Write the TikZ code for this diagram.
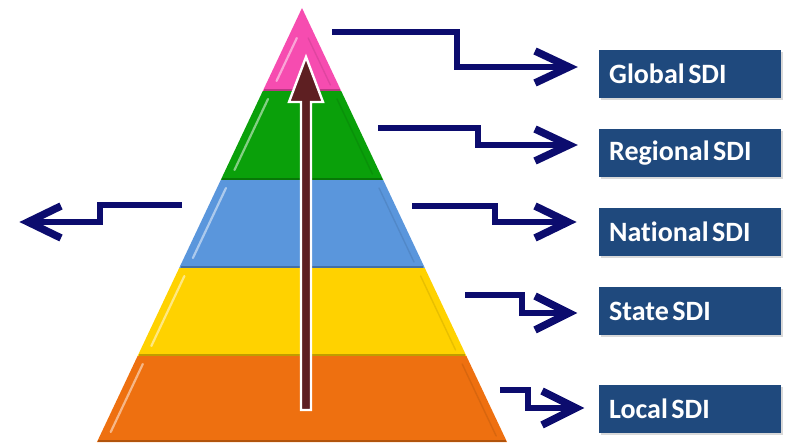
\documentclass[tikz,border=0pt]{standalone}
\usepackage{fontspec}
\setmainfont{Carlito}[Ligatures=NoCommon]
\usetikzlibrary{shadows}
\definecolor{cpink}{HTML}{F64CB0}
\definecolor{cgreen}{HTML}{0AA00A}
\definecolor{cblue}{HTML}{5A96DC}
\definecolor{cyellow}{HTML}{FFD200}
\definecolor{corange}{HTML}{EE7010}
\definecolor{navy}{HTML}{0C0C6E}
\definecolor{boxblue}{HTML}{1F497D}
\definecolor{brownarrow}{HTML}{5E1F22}
\newcommand{\pyrlayer}[4]{% top, bottom, colour, offset
  \fill[#3] ({302-0.4724*(#1-8)},#1) -- ({302+0.4724*(#1-8)},#1) -- ({302+0.4724*(#2-8)},#2) -- ({302-0.4724*(#2-8)},#2) -- cycle;
  \draw[#3!75!black, line width=1.6pt] ({302-0.4724*(#2-9)+1},#2-1) -- ({302+0.4724*(#2-9)-1},#2-1);
  \draw[white, opacity=0.5, line width=2.2pt, line cap=round] ({302-0.4724*(#1+#4-8)+9},#1+#4) -- ({302-0.4724*(#2-10-8)+9},#2-10);
  \draw[#3!80!black, opacity=0.45, line width=1.4pt, line cap=round] ({302+0.4724*(#1+#4-8)-8},#1+#4) -- ({302+0.4724*(#2-6-8)-8},#2-6);
}
\begin{document}
\begin{tikzpicture}[x=1pt,y=-1pt,
  sdibox/.style={fill=boxblue, text=white, font=\bfseries\fontsize{28}{30}\selectfont,
    execute at begin node={\spaceskip=3.5pt\relax},
    minimum width=182pt, minimum height=48pt, anchor=north west, inner sep=0pt,
    inner xsep=10pt, text width=162pt, align=left,
    drop shadow={shadow xshift=1.5pt, shadow yshift=-1.5pt, opacity=0.3}},
  flow/.style={draw=navy, line width=6pt, line join=miter},
  chev/.style={draw=navy, line width=7.5pt, line join=miter, line cap=butt}]
\useasboundingbox (0,0) rectangle (786,444);

% pyramid
\pyrlayer{8}{91}{cpink}{30}
\pyrlayer{91}{180}{cgreen}{8}
\pyrlayer{180}{268}{cblue}{8}
\pyrlayer{268}{356}{cyellow}{8}
\pyrlayer{356}{442}{corange}{8}

% central arrow
\filldraw[fill=brownarrow, draw=white, line width=2.4pt, line join=miter]
  (301,410) -- (301,102) -- (289,102) -- (306,57) -- (323,102) -- (311,102) -- (311,410) -- cycle;

% boxes
\node[sdibox] (global)   at (599,50)  {Global SDI};
\node[sdibox] (regional) at (599,129) {Regional SDI};
\node[sdibox] (national) at (599,208) {National SDI};
\node[sdibox] (state)    at (599,287) {State SDI};
\node[sdibox] (local)    at (599,385) {Local SDI};

% connector coordinates (visible tips)
\coordinate (g0) at (332,32);  \coordinate (gt) at (577,67);
\coordinate (r0) at (378,128); \coordinate (rt) at (577,145);
\coordinate (n0) at (412,206); \coordinate (nt) at (576,222);
\coordinate (s0) at (465,295); \coordinate (st) at (577,313);
\coordinate (l0) at (500,390); \coordinate (lt) at (584,408);
\coordinate (w0) at (182,205); \coordinate (wt) at (20,222);

% connectors
\draw[flow] (g0) -- (457,32) -- (457,67) -- ([xshift=-10pt]gt);
\draw[chev] ([shift={(-42,-16)}]gt) -- ([xshift=-8pt]gt) -- ([shift={(-42,16)}]gt);

\draw[flow] (r0) -- (478,128) -- (478,145) -- ([xshift=-10pt]rt);
\draw[chev] ([shift={(-42,-16)}]rt) -- ([xshift=-8pt]rt) -- ([shift={(-42,16)}]rt);

\draw[flow] (n0) -- (495,206) -- (495,222) -- ([xshift=-10pt]nt);
\draw[chev] ([shift={(-41,-16)}]nt) -- ([xshift=-8pt]nt) -- ([shift={(-41,16)}]nt);

\draw[flow] (s0) -- (522,295) -- (522,313) -- ([xshift=-10pt]st);
\draw[chev] ([shift={(-42,-17)}]st) -- ([xshift=-8pt]st) -- ([shift={(-42,17)}]st);

\draw[flow] (l0) -- (528,390) -- (528,408) -- ([xshift=-10pt]lt);
\draw[chev] ([shift={(-42,-17)}]lt) -- ([xshift=-8pt]lt) -- ([shift={(-42,17)}]lt);

\draw[flow] (w0) -- (100,205) -- (100,222) -- ([xshift=10pt]wt);
\draw[chev] ([shift={(41,-16)}]wt) -- ([xshift=8pt]wt) -- ([shift={(41,16)}]wt);
\end{tikzpicture}
\end{document}
